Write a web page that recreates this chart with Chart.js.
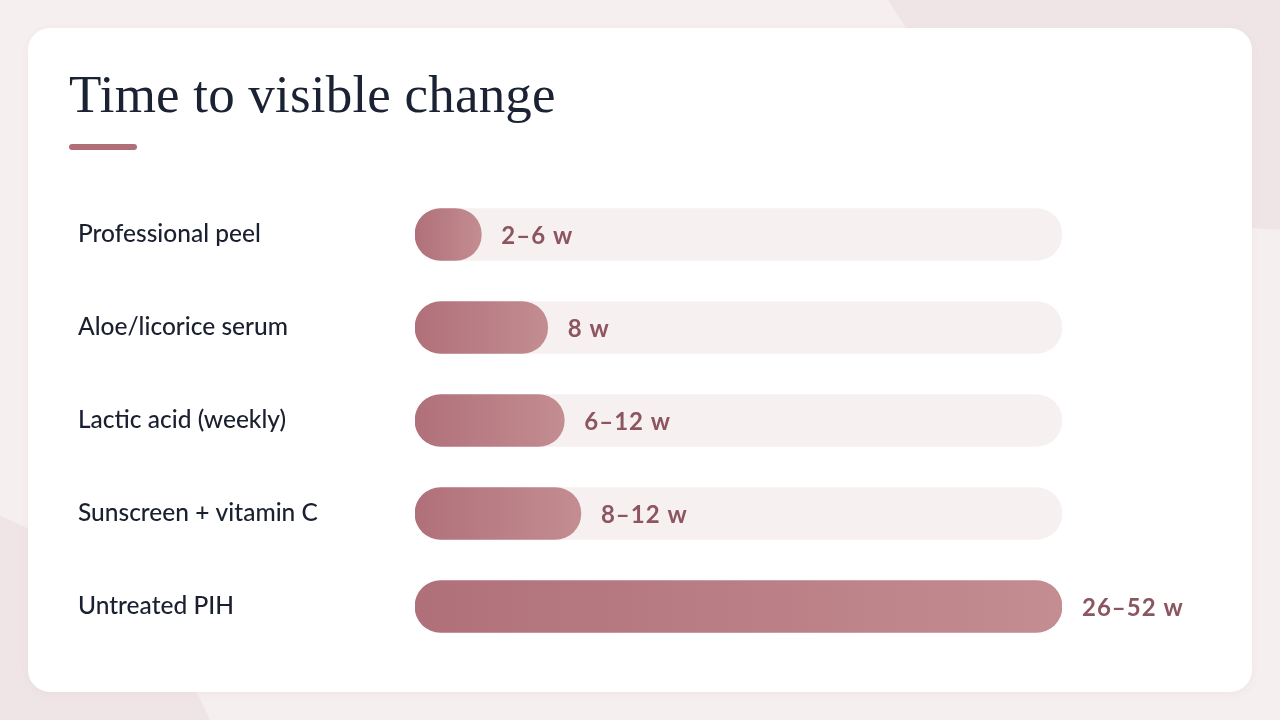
<!DOCTYPE html>
<html>
<head>
<meta charset="utf-8">
<script src="https://cdn.jsdelivr.net/npm/chart.js"></script>
<style>
  html, body { margin: 0; padding: 0; }
  body {
    width: 1280px; height: 720px; overflow: hidden; position: relative;
    background: #f6efef;
  }
  .blob { position: absolute; border-radius: 50%; background: #f0e5e6; }
  .card {
    position: absolute; left: 28px; top: 28px; width: 1224px; height: 664px;
    background: #fff; border-radius: 22px;
    box-shadow: 0 2px 10px rgba(120, 70, 80, 0.05);
  }
  h1 {
    position: absolute; left: 69px; top: 64px; margin: 0;
    font-family: 'Liberation Serif', serif; font-weight: 400; font-size: 53px;
    color: #1b2233; letter-spacing: 0.2px;
  }
  .accent {
    position: absolute; left: 69px; top: 144px; width: 68px; height: 6px;
    border-radius: 3px; background: #b06f78;
  }
  #wrap { position: absolute; left: 78px; top: 167.5px; width: 1162px; height: 505px; }
</style>
</head>
<body>
<div class="blob" style="left:820px; top:-720px; width:950px; height:950px;"></div>
<div class="blob" style="left:-544px; top:486px; width:788px; height:788px;"></div>
<div class="card"></div>
<h1>Time to visible change</h1>
<div class="accent"></div>
<div id="wrap"><canvas id="weeksChart"></canvas></div>

<script>
// categories and values (midpoint of the range in weeks)
const treatments = ['Professional peel', 'Aloe/licorice serum', 'Lactic acid (weekly)', 'Sunscreen + vitamin C', 'Untreated PIH'];
const weeksMid = [4, 8, 9, 10, 39];
const rangeLabels = ['2–6 w', '8 w', '6–12 w', '8–12 w', '26–52 w'];
const scaleMax = 39;
const trackValues = treatments.map(() => scaleMax);

const labelFont = "Lato, 'Noto Sans', sans-serif";

function barGradient(context) {
  const chart = context.chart;
  const xScale = chart.scales.x;
  if (!xScale || !chart.chartArea) return '#b77880';
  const v = context.raw;
  const x0 = xScale.getPixelForValue(0);
  const x1 = xScale.getPixelForValue(v);
  const g = chart.ctx.createLinearGradient(x0, 0, Math.max(x1, x0 + 1), 0);
  g.addColorStop(0, '#b0707a');
  g.addColorStop(1, '#c38d91');
  return g;
}

// writes the range text just after the end of each bar
const endLabels = {
  id: 'endLabels',
  afterDatasetsDraw(chart) {
    const ctx = chart.ctx;
    const meta = chart.getDatasetMeta(0);
    ctx.save();
    ctx.font = "bold 24px " + labelFont;
    ctx.letterSpacing = '1px';
    ctx.fillStyle = '#8c5560';
    ctx.textAlign = 'left';
    ctx.textBaseline = 'middle';
    meta.data.forEach((bar, i) => {
      ctx.fillText(rangeLabels[i], bar.x + 20, bar.y + 2);
    });
    ctx.restore();
  }
};

new Chart(document.getElementById('weeksChart'), {
  type: 'bar',
  data: {
    labels: treatments,
    datasets: [
      {
        label: 'Weeks',
        data: weeksMid,
        backgroundColor: barGradient,
        borderRadius: 26,
        borderSkipped: false,
        barThickness: 52,
        grouped: false,
        order: 1
      },
      {
        label: 'Track',
        data: trackValues,
        backgroundColor: '#f7f0f1',
        borderRadius: 26,
        borderSkipped: false,
        barThickness: 52,
        grouped: false,
        order: 2
      }
    ]
  },
  options: {
    indexAxis: 'y',
    responsive: true,
    maintainAspectRatio: false,
    animation: false,
    layout: { padding: { left: 0, right: 178, top: 20, bottom: 20 } },
    plugins: { legend: { display: false }, tooltip: { enabled: false }, title: { display: false } },
    scales: {
      x: { display: false, min: 0, max: scaleMax },
      y: {
        grid: { display: false },
        border: { display: false },
        afterFit(scale) { scale.width = 337; },
        ticks: {
          crossAlign: 'far',
          color: '#1b2030',
          font: { family: labelFont, size: 24.5, weight: '500' }
        }
      }
    }
  },
  plugins: [endLabels]
});
</script>
</body>
</html>
